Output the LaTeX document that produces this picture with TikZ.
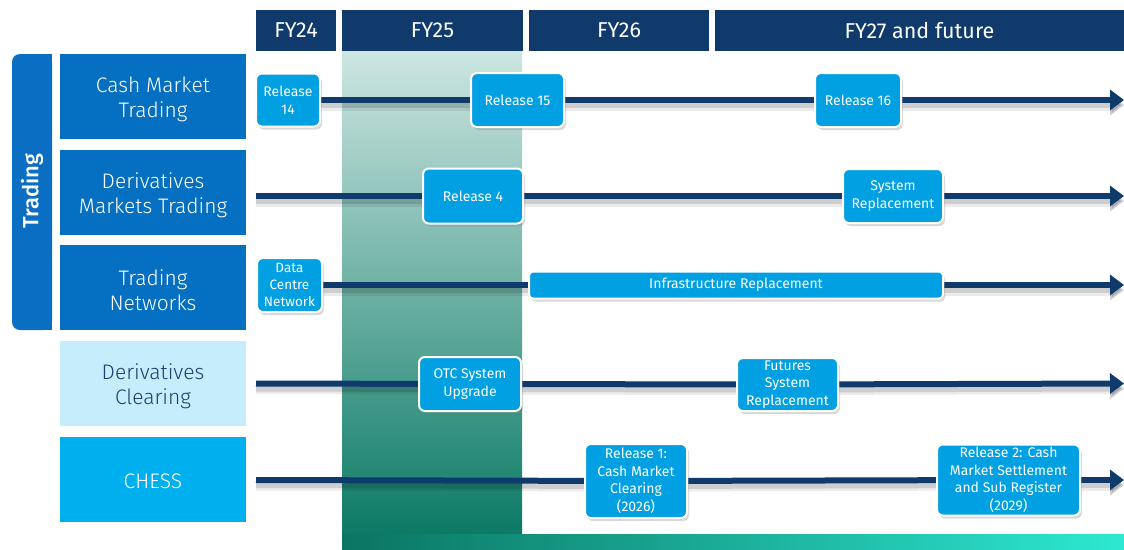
\documentclass[tikz,border=0pt]{standalone}
\usepackage{fontspec}
\setmainfont{Fira Sans}
\newfontfamily\lightfont{Fira Sans Light}
\newfontfamily\mediumfont{Fira Sans Medium}
\usetikzlibrary{shadows,arrows.meta,backgrounds}
\definecolor{hdrblue}{HTML}{0F3A6B}
\definecolor{navy}{HTML}{0E3A6C}
\definecolor{rowblue}{HTML}{0570C1}
\definecolor{tradeblue}{HTML}{0A6FC2}
\definecolor{lightrow}{HTML}{C5EDFC}
\definecolor{lighttext}{HTML}{1D4070}
\definecolor{chessblue}{HTML}{00B0EE}
\definecolor{boxblue}{HTML}{00A0E2}
\definecolor{greentop}{HTML}{CDE6E2}
\definecolor{greenmid}{HTML}{6FB5A8}
\definecolor{greenbot}{HTML}{0B7A65}
\definecolor{barleft}{HTML}{0A7562}
\definecolor{barright}{HTML}{2DE8D2}
\begin{document}
\begin{tikzpicture}[x=1pt,y=-1pt,
  hdr/.style={fill=hdrblue, text=white, font=\fontsize{21.5}{24}\selectfont, inner sep=0pt, minimum height=41pt},
  rowlab/.style={fill=rowblue, text=white, inner sep=0pt, minimum width=186pt, minimum height=85pt, align=center, font=\lightfont\fontsize{21}{25}\selectfont},
  rowtext/.style={text=white, align=center, font=\lightfont\fontsize{21}{25}\selectfont},
  msbox/.style={fill=boxblue, draw=white, line width=2pt, rounded corners=6pt, text=white, align=center, inner sep=0pt,
    font=\fontsize{14}{17.5}\selectfont, drop shadow={opacity=0.3, shadow xshift=2pt, shadow yshift=-3pt}},
  tl/.style={draw=navy, line width=6pt,
    preaction={draw=black, opacity=0.08, line width=11pt, transform canvas={yshift=-5pt}},
    preaction={draw=black, opacity=0.12, line width=6pt, transform canvas={yshift=-5pt}}},
  tla/.style={tl, -{Triangle[length=14pt,width=20pt]}}]
\useasboundingbox (0,0) rectangle (1124,549);

% headers
\node[hdr, minimum width=80pt] (fy24) at (296,30.5) {FY24};
\node[hdr, minimum width=181pt] (fy25) at (432.5,30.5) {FY25};
\node[hdr, minimum width=180pt] (fy26) at (619,30.5) {FY26};
\node[hdr, minimum width=409pt] (fy27) at (919.5,30.5) {FY27 and future};

% trading bar
\fill[tradeblue, rounded corners=8pt] (12,54) rectangle (52,330);
\fill[tradeblue] (40,54) rectangle (52,330);
\node[rotate=90, text=white, font=\mediumfont\fontsize{22}{24}\selectfont] (tradinglab) at (32,191) {Trading};

% row labels
\node[rowlab] (cmt) at (153,96.5) {};
\node[rowtext] (cmtt) at (153,99.5) {Cash Market\\Trading};
\node[rowlab] (dmt) at (153,192.5) {};
\node[rowtext] (dmtt) at (153,195.5) {Derivatives\\Markets Trading};
\node[rowlab] (tn) at (153,287.5) {};
\node[rowtext] (tnt) at (153,290.5) {Trading\\Networks};
\node[rowlab, fill=lightrow] (dc) at (153,383.5) {};
\node[rowtext, text=lighttext] (dct) at (153,386.5) {Derivatives\\Clearing};
\node[rowlab, fill=chessblue] (chess) at (153,479.5) {};
\node[rowtext] (chesst) at (153,481.5) {CHESS};

% milestone boxes
\node[msbox, minimum width=64pt, minimum height=53pt] (r14) at (288,100) {Release\\14};
\node[msbox, minimum width=93pt, minimum height=54pt] (r15) at (517.5,100) {Release 15};
\node[msbox, minimum width=86pt, minimum height=54pt] (r16) at (858,100) {Release 16};
\node[msbox, minimum width=100pt, minimum height=55pt] (rel4) at (473,196) {Release 4};
\node[msbox, minimum width=100pt, minimum height=54pt] (sysrep) at (893,196) {System\\Replacement};
\node[msbox, minimum width=65pt, minimum height=54pt, font=\fontsize{13.5}{17}\selectfont] (dcn) at (289.5,285) {Data\\Centre\\Network};
\node[msbox, minimum width=414pt, minimum height=27pt, rounded corners=4pt] (infra) at (736,285) {Infrastructure Replacement};
\node[msbox, minimum width=102pt, minimum height=54pt] (otc) at (470,384) {OTC System\\Upgrade};
\node[msbox, minimum width=101pt, minimum height=53pt] (fut) at (787.5,384.5) {Futures\\System\\Replacement};
\node[msbox, minimum width=102pt, minimum height=74pt] (rel1) at (636,481) {Release 1:\\Cash Market\\Clearing\\(2026)};
\node[msbox, minimum width=143pt, minimum height=71pt] (rel2) at (1008.5,480) {Release 2: Cash\\Market Settlement\\and Sub Register\\(2029)};

% coordinates
\coordinate (s2) at (256,196);
\coordinate (s4) at (256,383.5);
\coordinate (s5) at (256,480);
\coordinate (e1) at (1124,100);
\coordinate (e2) at (1124,196);
\coordinate (e3) at (1124,285);
\coordinate (e4) at (1124,383.5);
\coordinate (e5) at (1124,480);

\begin{scope}[on background layer]
  \fill[white] (0,0) rectangle (1124,549);
  \shade[top color=greentop, middle color=greenmid, bottom color=greenbot] (342,51) rectangle (522,535);
  \shade[left color=barleft, right color=barright] (342,534) rectangle (1124,549);
  \draw[tl] (r14) -- (r15) -- (r16);
  \draw[tla] (r16) -- (e1);
  \draw[tl] (s2) -- (rel4) -- (sysrep);
  \draw[tla] (sysrep) -- (e2);
  \draw[tl] (dcn) -- (infra);
  \draw[tla] (infra) -- (e3);
  \draw[tl] (s4) -- (otc) -- (fut);
  \draw[tla] (fut) -- (e4);
  \draw[tl] (s5) -- (rel1) -- (rel2);
  \draw[tla] (rel2) -- (e5);
\end{scope}
\end{tikzpicture}
\end{document}
